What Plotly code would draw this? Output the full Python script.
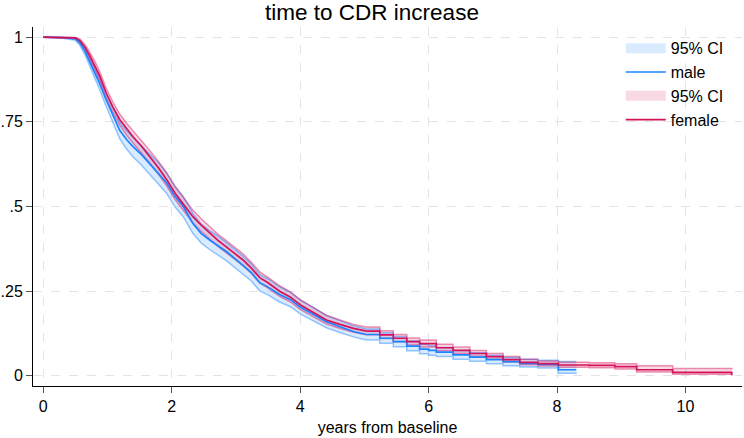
import plotly.graph_objects as go

# Female KM estimate and 95% CI
t_f = [0, 0.5, 0.57, 0.65, 0.72, 0.8, 0.88, 0.98, 1.08, 1.19, 1.3, 1.4, 1.53, 1.66, 1.79, 1.92, 2.05, 2.18,
       2.33, 2.46, 2.59, 2.72, 2.85, 2.98, 3.11, 3.24, 3.37, 3.5, 3.68, 3.85, 4.0, 4.2, 4.41, 4.62, 4.83, 5.03,
       5.24, 5.45, 5.66, 5.86, 6.12, 6.38, 6.64, 6.9, 7.16, 7.42, 7.7, 8.02, 8.5, 8.9, 9.24, 9.8, 10.72]
s_f = [1.0, 0.998, 0.99, 0.97, 0.947, 0.918, 0.885, 0.835, 0.795, 0.757, 0.728, 0.705, 0.678, 0.647, 0.615, 0.58,
       0.54, 0.507, 0.47, 0.445, 0.421, 0.40, 0.381, 0.362, 0.342, 0.318, 0.29, 0.275, 0.25, 0.232, 0.21, 0.188,
       0.165, 0.152, 0.14, 0.132, 0.121, 0.111, 0.101, 0.095, 0.083, 0.075, 0.066, 0.057, 0.048, 0.04, 0.036,
       0.032, 0.031, 0.027, 0.018, 0.010, 0.002]
lo_f = [1.0, 0.996, 0.984, 0.961, 0.936, 0.905, 0.871, 0.820, 0.779, 0.740, 0.710, 0.687, 0.659, 0.628, 0.596,
        0.561, 0.521, 0.488, 0.451, 0.426, 0.403, 0.382, 0.363, 0.345, 0.325, 0.302, 0.274, 0.259, 0.235, 0.218,
        0.196, 0.175, 0.153, 0.140, 0.129, 0.121, 0.110, 0.101, 0.091, 0.085, 0.074, 0.066, 0.058, 0.049, 0.041,
        0.033, 0.029, 0.025, 0.024, 0.020, 0.011, 0.005, 0.002]
hi_f = [1.0, 0.999, 0.995, 0.978, 0.957, 0.930, 0.898, 0.849, 0.810, 0.773, 0.745, 0.723, 0.696, 0.665, 0.634,
        0.599, 0.559, 0.526, 0.489, 0.464, 0.440, 0.418, 0.399, 0.380, 0.360, 0.335, 0.307, 0.291, 0.266, 0.247,
        0.225, 0.202, 0.178, 0.165, 0.152, 0.144, 0.133, 0.122, 0.112, 0.106, 0.093, 0.085, 0.075, 0.066, 0.057,
        0.049, 0.044, 0.040, 0.039, 0.036, 0.030, 0.022, 0.018]

# Male KM estimate and 95% CI
t_m = [0, 0.3, 0.5, 0.57, 0.65, 0.72, 0.8, 0.88, 0.98, 1.08, 1.19, 1.3, 1.4, 1.53, 1.66, 1.79, 1.92, 2.05, 2.18,
       2.33, 2.46, 2.59, 2.72, 2.85, 2.98, 3.11, 3.24, 3.37, 3.5, 3.68, 3.85, 4.0, 4.2, 4.41, 4.62, 4.83, 5.03,
       5.24, 5.45, 5.66, 5.86, 6.0, 6.12, 6.38, 6.64, 6.9, 7.16, 7.42, 7.7, 8.02, 8.3]
s_m = [1.0, 0.999, 0.995, 0.983, 0.958, 0.93, 0.897, 0.862, 0.815, 0.77, 0.725, 0.697, 0.676, 0.653, 0.626, 0.60,
       0.57, 0.53, 0.50, 0.45, 0.42, 0.401, 0.385, 0.367, 0.347, 0.327, 0.305, 0.275, 0.262, 0.24, 0.225, 0.203,
       0.182, 0.16, 0.145, 0.131, 0.122, 0.111, 0.101, 0.088, 0.079, 0.075, 0.070, 0.062, 0.055, 0.048, 0.042,
       0.037, 0.034, 0.018, 0.018]
lo_m = [1.0, 0.997, 0.991, 0.976, 0.948, 0.917, 0.882, 0.844, 0.795, 0.748, 0.700, 0.669, 0.646, 0.622, 0.595,
        0.569, 0.539, 0.499, 0.470, 0.421, 0.392, 0.373, 0.357, 0.340, 0.320, 0.301, 0.280, 0.251, 0.239, 0.218,
        0.204, 0.183, 0.163, 0.142, 0.128, 0.115, 0.106, 0.096, 0.086, 0.074, 0.065, 0.061, 0.057, 0.049, 0.043,
        0.036, 0.030, 0.026, 0.023, 0.008, 0.006]
hi_m = [1.0, 1.0, 0.998, 0.989, 0.967, 0.942, 0.911, 0.879, 0.834, 0.791, 0.749, 0.723, 0.704, 0.682, 0.656,
        0.630, 0.600, 0.560, 0.530, 0.479, 0.448, 0.429, 0.413, 0.394, 0.374, 0.353, 0.330, 0.299, 0.286, 0.263,
        0.247, 0.224, 0.202, 0.179, 0.163, 0.148, 0.138, 0.127, 0.116, 0.103, 0.093, 0.089, 0.084, 0.075, 0.068,
        0.060, 0.054, 0.049, 0.046, 0.042, 0.042]

x_ticks = [0, 2, 4, 6, 8, 10]
y_ticks = [0, 0.25, 0.5, 0.75, 1]
y_ticklabels = ["0", ".25", ".5", ".75", "1"]

# beyond this time the estimate is drawn as a visible staircase
STEP_FROM = 5.0

BLUE = "rgb(26,133,255)"
RED = "rgb(212,17,89)"
BLUE_FILL = "rgba(26,133,255,0.16)"
RED_FILL = "rgba(212,17,89,0.16)"
BLUE_EDGE = "rgba(26,133,255,0.45)"
RED_EDGE = "rgba(212,17,89,0.45)"

fig = go.Figure()


def segments(t, *cols):
    k = next(i for i, v in enumerate(t) if v >= STEP_FROM)
    head = [t[:k + 1]] + [c[:k + 1] for c in cols]
    tail = [t[k:]] + [c[k:] for c in cols]
    return [(head, "linear"), (tail, "hv")]


def add_band(t, lo, hi, fillcol):
    for (tt, ll, hh), shape in segments(t, lo, hi):
        fig.add_trace(go.Scatter(x=tt, y=ll, mode="lines", line=dict(width=0, shape=shape),
                                 showlegend=False, hoverinfo="skip"))
        fig.add_trace(go.Scatter(x=tt, y=hh, mode="lines", line=dict(width=0, shape=shape),
                                 fill="tonexty", fillcolor=fillcol, showlegend=False, hoverinfo="skip"))


def add_band_edges(t, lo, hi, col):
    for (tt, ll, hh), shape in segments(t, lo, hi):
        for yy in (ll, hh):
            fig.add_trace(go.Scatter(x=tt, y=yy, mode="lines", line=dict(color=col, width=1.5, shape=shape),
                                     showlegend=False, hoverinfo="skip"))


def add_curve(t, s, col, name, rank):
    for i, ((tt, ss), shape) in enumerate(segments(t, s)):
        fig.add_trace(go.Scatter(x=tt, y=ss, mode="lines", line=dict(color=col, width=1.7, shape=shape),
                                 name=name, legendrank=rank, showlegend=(i == 0)))


def add_legend_box(fillcol, name, rank):
    # legend-only entry showing the CI area key
    fig.add_trace(go.Scatter(x=[None], y=[None], mode="lines", name=name, legendrank=rank,
                             line=dict(color=fillcol, width=16)))


add_band(t_m, lo_m, hi_m, BLUE_FILL)
add_band(t_f, lo_f, hi_f, RED_FILL)
add_band_edges(t_m, lo_m, hi_m, BLUE_EDGE)
add_band_edges(t_f, lo_f, hi_f, RED_EDGE)
add_curve(t_m, s_m, BLUE, "male", 2)
add_curve(t_f, s_f, RED, "female", 4)
add_legend_box(BLUE_FILL, "95% CI", 1)
add_legend_box(RED_FILL, "95% CI", 3)

fig.update_layout(
    width=744, height=438,
    margin=dict(l=33, r=2, t=27, b=52),
    paper_bgcolor="white", plot_bgcolor="white",
    font=dict(family="Liberation Sans, Arial, sans-serif", size=16, color="black"),
    title=dict(text="time to CDR increase", x=0.5, xanchor="center", xref="container",
               y=1 - 12 / 438, yanchor="middle", font=dict(size=22.5, color="black")),
    legend=dict(x=0.829, y=0.988, xanchor="left", yanchor="top", bgcolor="rgba(0,0,0,0)",
                font=dict(size=16), tracegroupgap=0, traceorder="normal", itemwidth=40),
    xaxis=dict(range=[-0.16, 10.88], tickvals=x_ticks, ticks="outside", ticklen=6, tickcolor="#555",
               showline=True, linecolor="black", linewidth=1, mirror=False, automargin=False,
               showgrid=True, gridcolor="#e4e4e4", griddash="dash", gridwidth=1, zeroline=False,
               title=dict(text="years from baseline", font=dict(size=16), standoff=7)),
    yaxis=dict(range=[-0.03, 1.03], tickvals=y_ticks, ticktext=y_ticklabels, ticks="outside", ticklen=6,
               tickcolor="#555", showline=True, linecolor="black", linewidth=1, automargin=False,
               showgrid=True, gridcolor="#e4e4e4", griddash="dash", gridwidth=1, zeroline=False),
)

fig.write_html("out.html", config={"displayModeBar": False},
               post_script="document.body.style.margin='0';")
